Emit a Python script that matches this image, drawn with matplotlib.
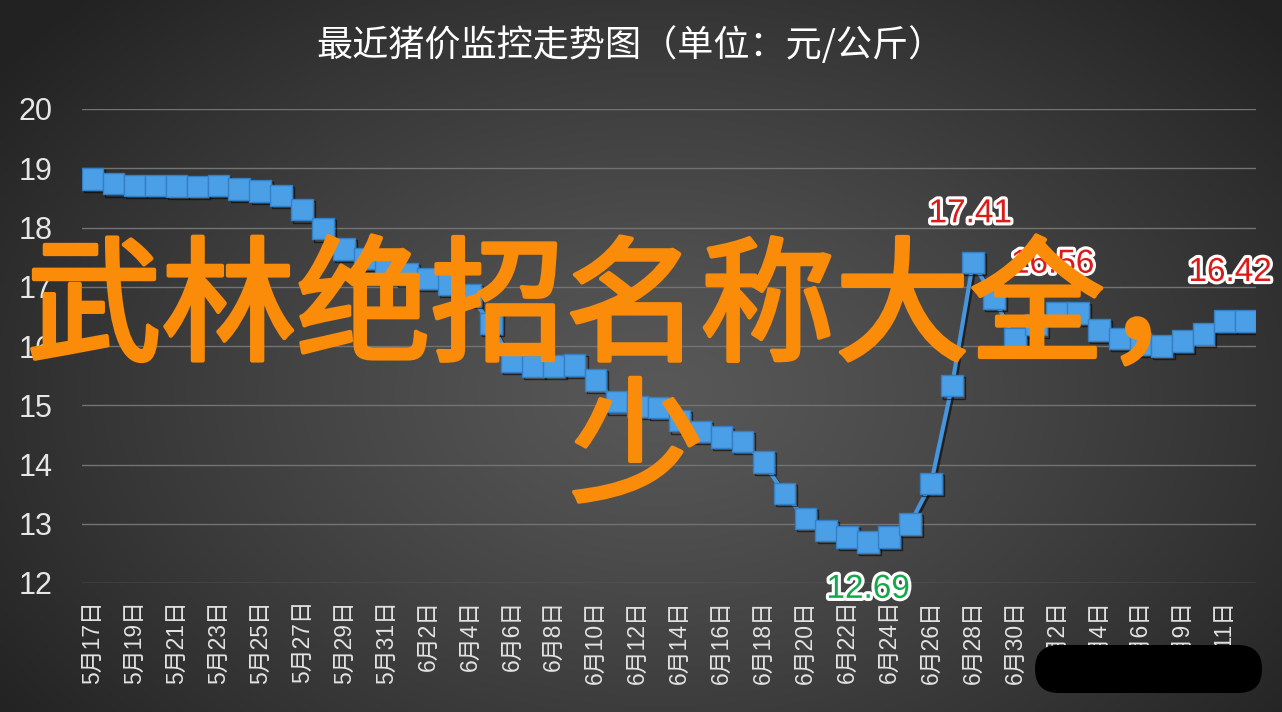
import numpy as np
import pandas as pd
import matplotlib
matplotlib.use('Agg')
import matplotlib.pyplot as plt
import matplotlib.patheffects as pe
from matplotlib.patches import FancyBboxPatch

# daily pig prices, 5/17 .. 7/12 (7/7 missing)
dates = pd.date_range('2020-05-17', '2020-07-12').drop(pd.Timestamp('2020-07-07'))
prices = [18.82, 18.74, 18.71, 18.71, 18.70, 18.69, 18.71, 18.65, 18.62, 18.54,
          18.30, 17.98, 17.64, 17.48, 17.32, 17.22, 17.14, 17.05, 16.86, 16.38,
          15.74, 15.66, 15.66, 15.68, 15.43, 15.06, 14.98, 14.96, 14.74, 14.56,
          14.46, 14.39, 14.04, 13.51, 13.09, 12.89, 12.78, 12.69, 12.78, 13.00,
          13.68, 15.33, 17.41, 16.80, 16.12, 16.36, 16.56, 16.56, 16.27, 16.13,
          16.03, 16.00, 16.08, 16.20, 16.42, 16.42]
labels = ['%d月%d日' % (d.month, d.day) for d in dates]

# marked points: (index, text, colour, offset in points)
marks = [(42, '17.41', '#DD1A1A', (-2, 35)),
         (46, '16.56', '#DD1A1A', (-3, 35)),
         (54, '16.42', '#DD1A1A', (4, 35)),
         (37, '12.69', '#13A84A', (0, -34))]

title = '最近猪价监控走势图（单位：元/公斤）'
overlay_1 = '武林绝招名称大全，'
overlay_2 = '少'

W, H = 1282, 712
fig = plt.figure(figsize=(W / 100, H / 100), dpi=100)

# background: radial grey gradient
bg = fig.add_axes([0, 0, 1, 1], zorder=0)
yy, xx = np.mgrid[0:H:4, 0:W:4]
d = np.sqrt(((xx - 660) / 820.0) ** 2 + ((yy - 390) / 560.0) ** 2)
d = np.clip(d, 0, 1) ** 1.2
c0, c1 = 0x58 / 255, 0x22 / 255
img = c0 + (c1 - c0) * d
bg.imshow(np.dstack([img, img, img]), extent=[0, W, H, 0], aspect='auto', interpolation='bilinear')
bg.set_xlim(0, W)
bg.set_ylim(H, 0)
bg.axis('off')

# chart
ax = fig.add_axes([82 / W, 1 - 583 / H, (1256 - 82) / W, (583 - 109) / H], zorder=1)
ax.patch.set_alpha(0)
x = np.arange(len(prices))
ax.plot(x, prices, color='#4596DF', lw=3, marker='s', ms=15.5,
        mfc='#4A9FE6', mec='#357FC4', mew=1, zorder=3,
        path_effects=[pe.SimpleLineShadow(offset=(1.5, -1.5), shadow_color='black', alpha=0.55),
                      pe.Normal()])

for i, txt, col, off in marks:
    ax.annotate(txt, (i, prices[i]), xytext=off, textcoords='offset points',
                ha='center', va='center', color=col, fontsize=24, family='Liberation Sans',
                zorder=5, path_effects=[pe.withStroke(linewidth=4.5, foreground='white')])

ax.set_xlim(-0.5, len(prices) - 0.5)
ax.set_ylim(12, 20)
ax.set_yticks(range(12, 21))
ax.set_xticks(x[::2])
ax.set_xticklabels(labels[::2], rotation=90, va='top', ha='center',
                   fontsize=16.5, family=['Liberation Sans', 'Noto Sans CJK SC'], color='#E2E2E2')
ax.tick_params(axis='y', length=0, pad=21, labelsize=22, labelcolor='#E6E6E6')
ax.tick_params(axis='x', length=0, pad=12)
for lab in ax.get_yticklabels():
    lab.set_family('Liberation Sans')
ax.grid(axis='y', color='#737373', lw=1)
ax.set_axisbelow(True)
for s in ax.spines.values():
    s.set_visible(False)

# foreground overlay in pixel coordinates
fg = fig.add_axes([0, 0, 1, 1], zorder=2)
fg.set_xlim(0, W)
fg.set_ylim(H, 0)
fg.axis('off')
fg.patch.set_alpha(0)

fg.text(630, 45, title, ha='center', va='center', color='white', fontsize=26,
        family='Noto Sans CJK SC', fontweight='medium')

orange = '#FB8C09'
thick = [pe.withStroke(linewidth=3, foreground=orange)]
fg.text(633, 312, overlay_1, ha='center', va='center', color=orange, fontsize=97,
        family='Noto Sans CJK SC', path_effects=thick)
fg.text(637, 453, overlay_2, ha='center', va='center', color=orange, fontsize=97,
        family='Noto Sans CJK SC', path_effects=thick)

fg.add_patch(FancyBboxPatch((1035, 645), 227, 48, boxstyle='round,pad=0,rounding_size=24',
                            fc='black', ec='none'))

fig.savefig('out.png', dpi=100)
